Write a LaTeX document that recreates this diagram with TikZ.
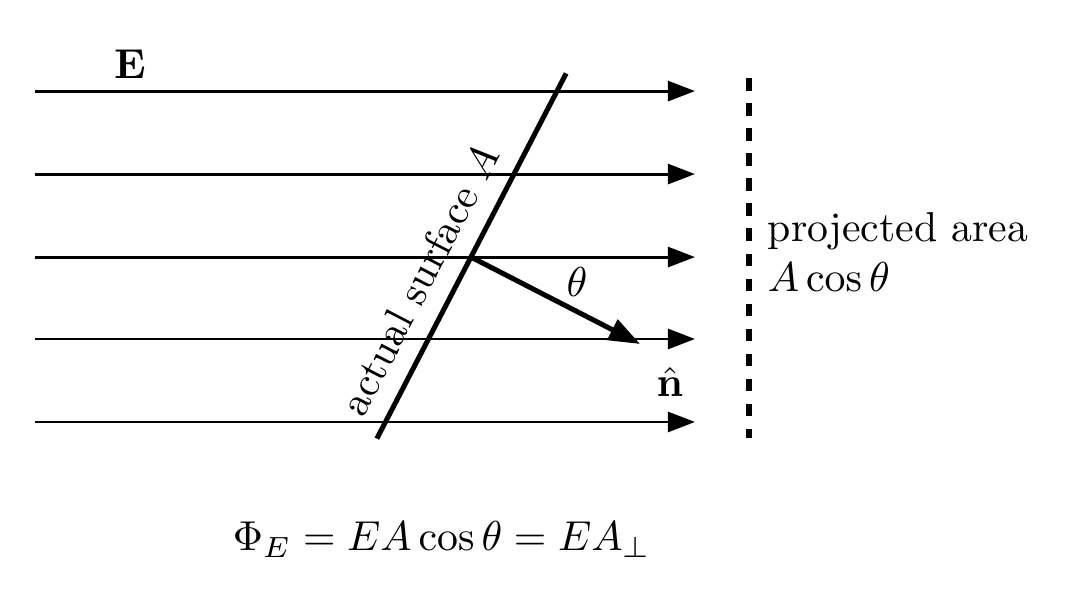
\documentclass[tikz,border=0pt]{standalone}
\usepackage{amsmath}
\usepackage{amssymb}
\usetikzlibrary{arrows.meta,calc}

\begin{document}
\begin{tikzpicture}[
  field/.style={line width=0.7pt,-{Triangle[length=6.5pt,width=4.8pt]}},
  surface/.style={line width=1.2pt},
  normal/.style={line width=1.2pt,-{Triangle[length=7.5pt,width=5.3pt]}},
  projected/.style={line width=1.3pt,dashed}]
\useasboundingbox (0,0) rectangle (9.033,5.038);
\foreach \i/\y in {1/1.489,2/2.187,3/2.876,4/3.574,5/4.272} {
  \coordinate (L\i) at (0.294,\y);
  \coordinate (R\i) at (5.845,\y);
  \draw[field] (L\i) -- (R\i);
}
\node (E) at (1.093,4.50) {$\mathbf{E}$};
\coordinate (O) at (3.961,2.876);
\coordinate (S1) at ($(O)+(242.6:1.72)$);
\coordinate (S2) at ($(O)+(62.6:1.74)$);
\draw[surface] (S1) -- (S2) node[pos=0.39,sloped,above=1pt] {actual surface $A$};
\coordinate (N) at ($(O)+(-27.2:1.60)$);
\draw[normal] (O) -- (N);
\node (theta) at (4.853,2.666) {$\theta$};
\node (nhat) at (5.635,1.825) {$\hat{\mathbf{n}}$};
\coordinate (P1) at (6.299,4.382);
\coordinate (P2) at (6.299,1.354);
\draw[projected] (P1) -- (P2);
\node[anchor=west,align=left,inner sep=0pt] (proj) at (6.451,2.918) {projected area\\$A\cos\theta$};
\node (flux) at (3.717,0.50) {$\Phi_E = EA\cos\theta = EA_{\perp}$};
\end{tikzpicture}
\end{document}
